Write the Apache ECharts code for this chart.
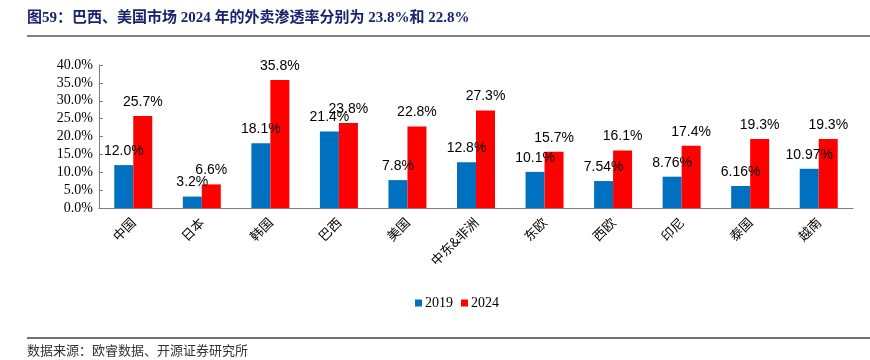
<!DOCTYPE html>
<html><head><meta charset="utf-8">
<script src="https://cdn.jsdelivr.net/npm/echarts@6/dist/echarts.min.js"></script>
<style>html,body{margin:0;padding:0;background:#fff}#c{width:870px;height:360px}</style>
</head><body><div id="c"></div>
<script>
const categories = ['中国','日本','韩国','巴西','美国','中东&非洲','东欧','西欧','印尼','泰国','越南'];
const v2019 = [12.0, 3.2, 18.1, 21.4, 7.8, 12.8, 10.1, 7.54, 8.76, 6.16, 10.97];
const v2024 = [25.7, 6.6, 35.8, 23.8, 22.8, 27.3, 15.7, 16.1, 17.4, 19.3, 19.3];
const label2019 = ['12.0%','3.2%','18.1%','21.4%','7.8%','12.8%','10.1%','7.54%','8.76%','6.16%','10.97%'];
const label2024 = ['25.7%','6.6%','35.8%','23.8%','22.8%','27.3%','15.7%','16.1%','17.4%','19.3%','19.3%'];
const titleText = '图59：巴西、美国市场 2024 年的外卖渗透率分别为 23.8%和 22.8%';
const sourceText = '数据来源：欧睿数据、开源证券研究所';

const chart = echarts.init(document.getElementById('c'), null, {renderer:'canvas'});
const lblStyle = (labels) => ({
  show: true, position: 'top', distance: 7,
  fontFamily: 'Liberation Sans', fontSize: 14, color: '#000',
  formatter: p => labels[p.dataIndex]
});
chart.setOption({
  animation: false,
  grid: {left: 99, right: 17, top: 65, bottom: 152, containLabel: false},
  legend: {
    data: ['2019','2024'], left: 410, top: 291, itemWidth: 7, itemHeight: 7, itemGap: 8,
    icon: 'rect', textStyle: {fontFamily: 'Liberation Serif', fontSize: 14, color: '#000', padding:[0,0,0,-2]}
  },
  xAxis: {
    type: 'category', data: categories,
    axisLine: {lineStyle: {color: '#7f7f7f', width: 1}},
    axisTick: {inside: true, length: 4, lineStyle: {color: '#7f7f7f'}},
    axisLabel: {rotate: 45, interval: 0, margin: 12, fontFamily: 'Noto Sans CJK SC', fontSize: 13, color: '#000'}
  },
  yAxis: {
    type: 'value', min: 0, max: 40, interval: 5,
    splitLine: {show: false},
    axisLine: {show: true, lineStyle: {color: '#7f7f7f', width: 1}},
    axisTick: {show: true, inside: true, length: 4, lineStyle: {color: '#7f7f7f'}},
    axisLabel: {formatter: v => v.toFixed(1) + '%', fontFamily: 'Liberation Serif', fontSize: 14, color: '#000', margin: 6}
  },
  series: [
    {name: '2019', type: 'bar', data: v2019, barWidth: 19, barGap: '0%', itemStyle: {color: '#0070C0'}, label: lblStyle(label2019)},
    {name: '2024', type: 'bar', data: v2024, barWidth: 19, itemStyle: {color: '#FF0000'}, label: lblStyle(label2024)}
  ],
  graphic: [
    {type: 'text', left: 27, top: 11, style: {text: titleText, font: 'bold 15px "Liberation Serif", "Noto Sans CJK SC"', fill: '#1a2270'}},
    {type: 'line', shape: {x1: 27, y1: 36, x2: 870, y2: 36}, style: {stroke: '#808080', lineWidth: 2}},
    {type: 'line', shape: {x1: 27, y1: 338, x2: 870, y2: 338}, style: {stroke: '#404040', lineWidth: 1.5}},
    {type: 'text', left: 27, top: 344, style: {text: sourceText, font: '13px "Noto Sans CJK SC"', fill: '#333'}}
  ]
});
</script></body></html>
